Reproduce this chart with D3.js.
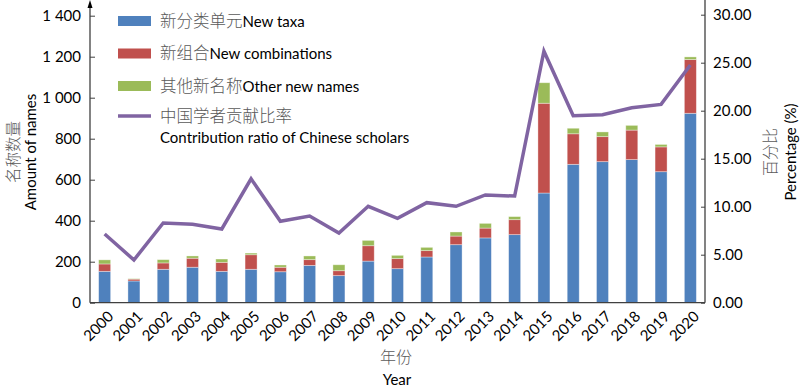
<!DOCTYPE html>
<html><head><meta charset="utf-8">
<script src="https://cdn.jsdelivr.net/npm/d3@7/dist/d3.min.js"></script>
<style>
body{margin:0;background:#fff;}
svg{display:block;}
.en{font-family:Lato,"Open Sans",sans-serif;font-size:15px;fill:#000;}
.cn{font-family:"Noto Sans CJK SC",sans-serif;font-size:16px;fill:#595959;font-weight:300;}
.lcn{font-family:"Noto Sans CJK SC",sans-serif;font-size:16.5px;fill:#595959;font-weight:300;}
</style></head>
<body>
<svg id="c" width="800" height="389"></svg>
<script>
const years = ["2000","2001","2002","2003","2004","2005","2006","2007","2008","2009","2010","2011","2012","2013","2014","2015","2016","2017","2018","2019","2020"];
const newTaxa = [153,106,163,173,153,163,151,182,132,203,166,223,283,316,332,535,675,688,698,639,924];
const newCombinations = [36,9,31,44,44,71,22,28,24,75,49,31,42,48,73,438,149,122,144,121,262];
const otherNames = [20,2,16,11,16,8,11,18,29,26,16,16,20,23,15,100,27,23,23,12,13];
const ratio = [7.16,4.45,8.3,8.16,7.68,12.9,8.48,9.03,7.26,10.04,8.79,10.42,10.04,11.22,11.11,26.2,19.48,19.58,20.3,20.66,24.76];
const leftTicks = [0,200,400,600,800,1000,1200,1400];
const rightTicks = [0,5,10,15,20,25,30];
const seriesNames = [["新分类单元","New taxa"],["新组合","New combinations"],["其他新名称","Other new names"]];
const lineName = ["中国学者贡献比率","Contribution ratio of Chinese scholars"];
const colors = ["#4f81bd","#c0504d","#9bbb59"];
const lineColor = "#8064a2";

const svg = d3.select("#c");
const L = 90, R = 705, B = 302.7;
const x = d3.scaleBand().domain(years).range([L,R]).paddingInner(0.59).paddingOuter(0.295);
const yL = d3.scaleLinear().domain([0,1400]).range([B,15.7]);
const yR = d3.scaleLinear().domain([0,30]).range([B,14.7]);

const data = years.map((yr,i)=>({year:yr,a:newTaxa[i],b:newCombinations[i],c:otherNames[i]}));
const stack = d3.stack().keys(["a","b","c"])(data);

const g = svg.append("g");
stack.forEach((s,k)=>{
  g.selectAll(null).data(s).enter().append("rect")
    .attr("x",d=>x(d.data.year))
    .attr("width",x.bandwidth())
    .attr("y",d=>yL(d[1]))
    .attr("height",d=>Math.max(0,yL(d[0])-yL(d[1])))
    .attr("fill",colors[k])
    .attr("stroke","rgba(255,255,255,0.45)").attr("stroke-width",0.8);
});

// line
const line = d3.line().x((d,i)=>x(years[i])+x.bandwidth()/2).y(d=>yR(d));
svg.append("path").datum(ratio).attr("d",line).attr("fill","none")
  .attr("stroke",lineColor).attr("stroke-width",3.5).attr("stroke-linejoin","miter");

// axes
const axColor = "#404040";
const ax = svg.append("g");
ax.append("line").attr("x1",L).attr("x2",R).attr("y1",B).attr("y2",B).attr("stroke",axColor).attr("stroke-width",1.3);
ax.append("line").attr("x1",L).attr("x2",L).attr("y1",B).attr("y2",6).attr("stroke",axColor).attr("stroke-width",1.3);
ax.append("path").attr("d",`M${L-2.5},8 L${L},0 L${L+2.5},8 Z`).attr("fill","#000");
ax.append("line").attr("x1",R).attr("x2",R).attr("y1",B).attr("y2",0).attr("stroke",axColor).attr("stroke-width",1.3);

const leftAxis = d3.axisLeft(yL).tickValues(leftTicks).tickSize(-5).tickPadding(9)
  .tickFormat(d=>d>=1000? d3.format(",")(d).replace(","," "):String(d));
const la = svg.append("g").attr("transform",`translate(${L},0)`).call(leftAxis);
la.select(".domain").remove();
la.selectAll("line").attr("stroke",axColor);
la.selectAll("text").attr("fill","#000").style("font-family","Lato").style("font-size","15px");

const rightAxis = d3.axisRight(yR).tickValues(rightTicks).tickSize(-4).tickPadding(8).tickFormat(d3.format(".2f"));
const ra = svg.append("g").attr("transform",`translate(${R},0)`).call(rightAxis);
ra.select(".domain").remove();
ra.selectAll("line").attr("stroke",axColor);
ra.selectAll("text").attr("fill","#000").style("font-family","Lato").style("font-size","15px");

// x labels
svg.append("g").selectAll("text").data(years).enter().append("text")
  .attr("class","en")
  .attr("text-anchor","end")
  .attr("transform",d=>`translate(${x(d)+x.bandwidth()/2+6},${B+11}) rotate(-45)`)
  .attr("dy","0.35em")
  .text(d=>d);

// axis titles
svg.append("text").attr("class","cn").attr("text-anchor","middle").attr("dominant-baseline","central").attr("x",396).attr("y",355.5).text("年份");
svg.append("text").attr("class","en").attr("text-anchor","middle").attr("dominant-baseline","central").attr("x",397).attr("y",379).text("Year");
svg.append("text").attr("class","cn").attr("text-anchor","middle").attr("dominant-baseline","central").style("font-size","15.5px").attr("transform","translate(12,152) rotate(-90)").text("名称数量");
svg.append("text").attr("class","en").attr("text-anchor","middle").attr("dominant-baseline","central").attr("transform","translate(30,152) rotate(-90)").text("Amount of names");
svg.append("text").attr("class","cn").attr("text-anchor","middle").attr("dominant-baseline","central").attr("transform","translate(769,152) rotate(-90)").text("百分比");
svg.append("text").attr("class","en").attr("text-anchor","middle").attr("dominant-baseline","central").attr("transform","translate(790,152) rotate(-90)").text("Percentage (%)");

// legend
const lg = svg.append("g");
const rowsY = [21,53.5,86];
seriesNames.forEach((n,i)=>{
  lg.append("rect").attr("x",118).attr("y",rowsY[i]-5).attr("width",33).attr("height",10).attr("fill",colors[i]);
  const t = lg.append("text").attr("x",160).attr("y",rowsY[i]).attr("dy","0.35em");
  t.append("tspan").attr("class","lcn").text(n[0]);
  t.append("tspan").attr("class","en").text(n[1]);
});
lg.append("line").attr("x1",118).attr("x2",151).attr("y1",116).attr("y2",116).attr("stroke",lineColor).attr("stroke-width",3.5);
lg.append("text").attr("class","lcn").attr("x",160).attr("y",116.5).attr("dy","0.35em").text(lineName[0]);
lg.append("text").attr("class","en").attr("x",160).attr("y",137.5).attr("dy","0.35em").text(lineName[1]);
</script>
</body></html>
